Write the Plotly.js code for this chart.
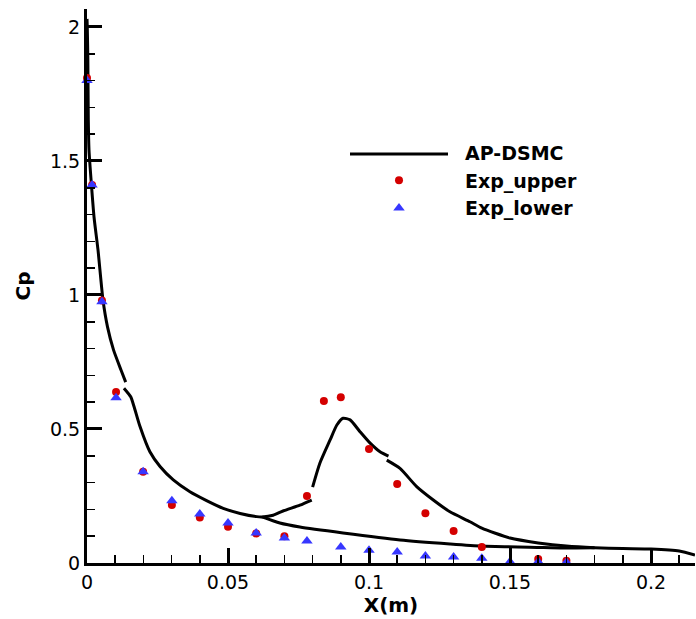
<!DOCTYPE html>
<html>
<head>
<meta charset="utf-8">
<script src="https://cdn.plot.ly/plotly-3.0.1.min.js"></script>
<style>html,body{margin:0;padding:0;background:#fff;}#chart{width:696px;height:619px;}</style>
</head>
<body>
<div id="chart"></div>
<script>
// AP-DSMC simulation: leading part + upper surface (null = gap in the curve)
const simUpperX = [0, 0.0001, 0.0003, 0.00046, 0.00071, 0.00152, 0.0025, 0.0039, 0.00567, 0.00727, 0.0094, 0.01206, 0.01372, null,
  0.0131, 0.0155, 0.0167, 0.0188, 0.0223, 0.0259, 0.0306, 0.0365, 0.0424, 0.0483, 0.0543, 0.0602, 0.0621,
  0.066, 0.0695, 0.0755, 0.0797, null,
  0.0800, 0.0826, 0.0862, 0.0886, 0.0908, 0.0933, 0.0968, 0.1004, 0.1039, 0.1069, null,
  0.1063, 0.111, 0.1169, 0.1228, 0.1287, 0.1358, 0.14, 0.15, 0.16, 0.17, 0.18, 0.19, 0.2, 0.21, 0.2156];
const simUpperY = [2.03, 2.0, 1.877, 1.653, 1.541, 1.418, 1.29, 1.168, 0.981, 0.881, 0.795, 0.72, 0.675, null,
  0.652, 0.62, 0.583, 0.509, 0.415, 0.36, 0.31, 0.266, 0.233, 0.204, 0.185, 0.173, 0.172,
  0.178, 0.194, 0.216, 0.235, null,
  0.283, 0.373, 0.459, 0.515, 0.54, 0.534, 0.49, 0.447, 0.415, 0.399, null,
  0.384, 0.353, 0.285, 0.235, 0.191, 0.154, 0.13, 0.093, 0.075, 0.063, 0.057, 0.054, 0.052, 0.045, 0.03];
// AP-DSMC simulation: lower surface after the split
const simLowerX = [0.0621, 0.0684, 0.0755, 0.0908, 0.111, 0.1287, 0.14, 0.16, 0.169, 0.18];
const simLowerY = [0.172, 0.149, 0.134, 0.112, 0.086, 0.071, 0.063, 0.058, 0.056, 0.057];
// Experiment, upper surface
const expUpperX = [0, 0.0018, 0.0053, 0.0103, 0.0199, 0.0301, 0.04, 0.05, 0.06, 0.07, 0.078,
  0.084, 0.090, 0.100, 0.110, 0.120, 0.130, 0.140, 0.160, 0.170];
const expUpperY = [1.81, 1.41, 0.979, 0.638, 0.34, 0.216, 0.17, 0.135, 0.11, 0.10, 0.25,
  0.604, 0.618, 0.425, 0.295, 0.186, 0.119, 0.06, 0.015, 0.008];
// Experiment, lower surface
const expLowerX = [0, 0.0018, 0.0053, 0.0103, 0.0199, 0.0301, 0.04, 0.05, 0.06, 0.07, 0.078,
  0.09, 0.10, 0.11, 0.12, 0.13, 0.14, 0.15, 0.16, 0.17];
const expLowerY = [1.80, 1.41, 0.975, 0.617, 0.34, 0.232, 0.183, 0.149, 0.112, 0.093, 0.082,
  0.06, 0.048, 0.041, 0.026, 0.022, 0.018, 0.005, 0.005, 0.003];

const xTickVals = [0, 0.05, 0.1, 0.15, 0.2];
const xTickText = ['0', '0.05', '0.1', '0.15', '0.2'];
const yTickVals = [0, 0.5, 1, 1.5, 2];
const yTickText = ['0', '0.5', '1', '1.5', '2'];

const FONT = 'DejaVu Sans, Arial, sans-serif';

const traces = [
  {x: simUpperX, y: simUpperY, mode: 'lines', name: 'AP-DSMC upper', showlegend: false,
   line: {color: '#000', width: 3, shape: 'spline', smoothing: 0.6}, connectgaps: false, cliponaxis: false},
  {x: simLowerX, y: simLowerY, mode: 'lines', name: 'AP-DSMC lower', showlegend: false,
   line: {color: '#000', width: 3, shape: 'spline', smoothing: 0.6}, cliponaxis: false},
  // legend entry for the simulation; its long sample line is drawn as a shape below
  {x: [null], y: [null], mode: 'lines', name: 'AP-DSMC',
   line: {color: 'rgba(0,0,0,0)', width: 0}},
  {x: expUpperX, y: expUpperY, mode: 'markers', name: 'Exp_upper',
   marker: {symbol: 'circle', color: '#d40000', size: 8}, cliponaxis: false},
  {x: expLowerX, y: expLowerY, mode: 'markers', name: 'Exp_lower',
   marker: {symbol: 'triangle-up', color: '#3737ff', size: 10}, cliponaxis: false}
];

const axisCommon = {
  showline: true, linecolor: '#000', linewidth: 3, mirror: false,
  showgrid: false, zeroline: false,
  ticks: 'inside', tickcolor: '#000', tickwidth: 3, ticklen: 15,
  tickfont: {family: FONT, size: 19, color: '#000'},
  tickmode: 'array'
};

const layout = {
  width: 696, height: 619,
  margin: {l: 87, r: 1, t: 9, b: 56},
  paper_bgcolor: '#fff', plot_bgcolor: '#fff',
  showlegend: true,
  legend: {x: 0.4046, xanchor: 'left', y: 0.775, yanchor: 'top',
    bgcolor: 'rgba(0,0,0,0)', borderwidth: 0, itemwidth: 122,
    font: {family: FONT, size: 19, color: '#000', weight: 'bold'}},
  xaxis: Object.assign({}, axisCommon, {
    range: [0, 0.2156], tickvals: xTickVals, ticktext: xTickText,
    minor: {dtick: 0.01, ticks: 'inside', ticklen: 8, tickwidth: 1.5, tickcolor: '#000'},
    title: {text: 'X(m)', font: {family: FONT, size: 20, color: '#000', weight: 'bold'}, standoff: 3}
  }),
  yaxis: Object.assign({}, axisCommon, {
    range: [0, 2.067], tickvals: yTickVals, ticktext: yTickText,
    minor: {dtick: 0.1, ticks: 'inside', ticklen: 8, tickwidth: 1.5, tickcolor: '#000'},
    title: {text: 'Cp', font: {family: FONT, size: 20, color: '#000', weight: 'bold'}, standoff: 14}
  }),
  shapes: [
    {type: 'line', xref: 'paper', yref: 'paper',
     x0: (350 - 87) / 608, x1: (448 - 87) / 608, y0: (563 - 154) / 554, y1: (563 - 154) / 554,
     line: {color: '#000', width: 3}}
  ]
};

Plotly.newPlot('chart', traces, layout, {displayModeBar: false, staticPlot: true});
</script>
</body>
</html>
